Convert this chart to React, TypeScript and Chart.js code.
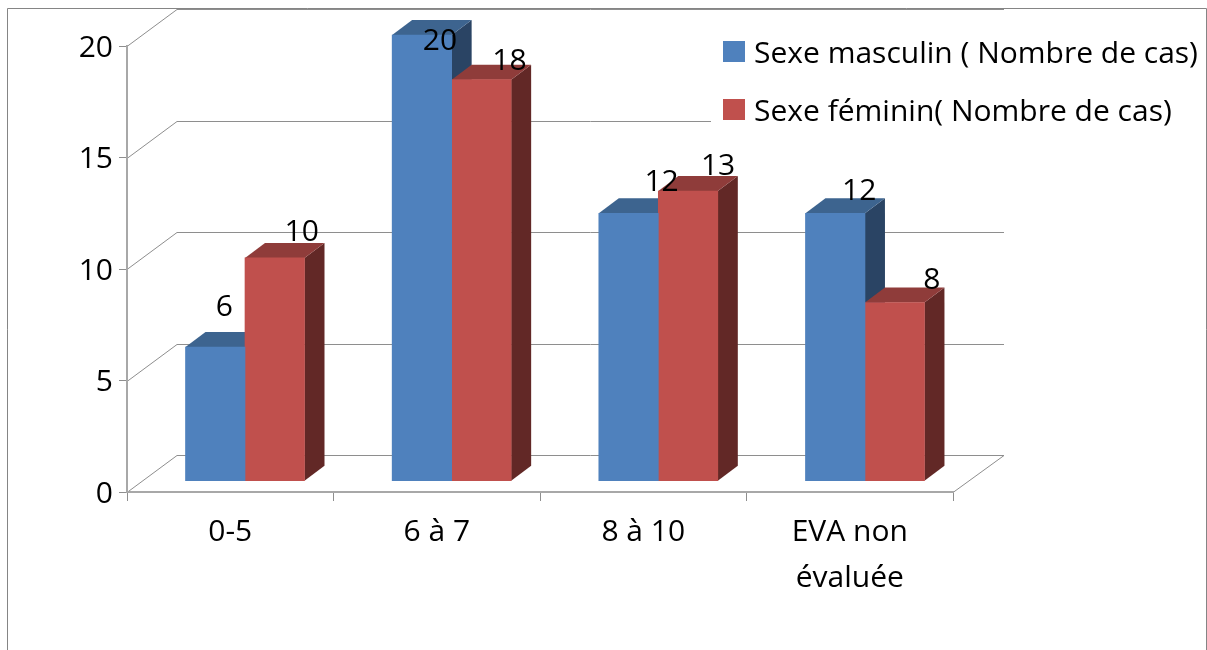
import React, { useEffect, useRef } from "react";
import { Chart, registerables } from "chart.js";

Chart.register(...registerables);

const categories: (string | string[])[] = ["0-5", "6 à 7", "8 à 10", ["EVA non", "évaluée"]];
const maleCases = [6, 20, 12, 12];
const femaleCases = [10, 18, 13, 8];
const maleLabel = "Sexe masculin ( Nombre de cas)";
const femaleLabel = "Sexe féminin( Nombre de cas)";

const FONT = "'Open Sans'";
const FONT_SIZE = 30;
const DEPTH_X = 20;
const DEPTH_Y = 15;
const WALL_X = 50;
const WALL_Y = 37;
const GRID = "#8e8e8e";
const AXIS = "#a8a8a8";

const faceColors = [
  { top: "#3d648f", side: "#2a4464", legend: "#4f81bd" },
  { top: "#8f3c3a", side: "#622826", legend: "#c0504d" },
];
// label nudges relative to the top-centre of each bar, by dataset then category
const labelNudges = [
  [[9, -40], [18, 6], [33, -31], [24, -22]],
  [[27, -25], [28, -18], [30, -25], [37, -22]],
];

const scene = {
  id: "scene3d",
  beforeDraw(chart: any) {
    const { ctx, chartArea: a } = chart;
    const y = chart.scales.y;
    ctx.save();
    ctx.fillStyle = "#ffffff";
    ctx.fillRect(0, 0, chart.width, chart.height);
    ctx.strokeStyle = "#858585";
    ctx.lineWidth = 1;
    ctx.beginPath();
    ctx.moveTo(7.5, 650);
    ctx.lineTo(7.5, 8.5);
    ctx.lineTo(1206.5, 8.5);
    ctx.lineTo(1206.5, 650);
    ctx.stroke();
    ctx.strokeStyle = GRID;
    y.ticks.forEach((t: any) => {
      const py = Math.round(y.getPixelForValue(t.value)) + 0.5;
      ctx.beginPath();
      ctx.moveTo(a.left, py);
      ctx.lineTo(a.left + WALL_X, py - WALL_Y);
      ctx.lineTo(a.right + WALL_X + 1, py - WALL_Y);
      if (t.value === 0) ctx.lineTo(a.right, py);
      ctx.stroke();
    });
    // legend backing hides the gridlines behind it
    ctx.fillStyle = "#ffffff";
    ctx.fillRect(711, 15, 400, 120);
    ctx.restore();
  },
  beforeDatasetsDraw(chart: any) {
    const { ctx } = chart;
    ctx.save();
    chart.data.datasets.forEach((_: any, d: number) => {
      const c = faceColors[d];
      chart.getDatasetMeta(d).data.forEach((bar: any) => {
        const left = bar.x - bar.width / 2;
        const right = bar.x + bar.width / 2;
        const top = bar.y;
        const base = bar.base;
        ctx.fillStyle = c.side;
        ctx.beginPath();
        ctx.moveTo(right, top);
        ctx.lineTo(right + DEPTH_X, top - DEPTH_Y);
        ctx.lineTo(right + DEPTH_X, base - DEPTH_Y);
        ctx.lineTo(right, base);
        ctx.closePath();
        ctx.fill();
        ctx.fillStyle = c.top;
        ctx.beginPath();
        ctx.moveTo(left, top);
        ctx.lineTo(left + DEPTH_X, top - DEPTH_Y);
        ctx.lineTo(right + DEPTH_X, top - DEPTH_Y);
        ctx.lineTo(right, top);
        ctx.closePath();
        ctx.fill();
      });
    });
    ctx.restore();
  },
  afterDatasetsDraw(chart: any) {
    const { ctx } = chart;
    ctx.save();
    ctx.font = `${FONT_SIZE}px ${FONT}`;
    ctx.fillStyle = "#000000";
    ctx.textAlign = "center";
    ctx.textBaseline = "middle";
    chart.data.datasets.forEach((ds: any, d: number) => {
      chart.getDatasetMeta(d).data.forEach((bar: any, i: number) => {
        const [nx, ny] = labelNudges[d][i];
        ctx.fillText(String(ds.data[i].y), bar.x + nx, bar.y + ny);
      });
    });
    ctx.textAlign = "left";
    chart.data.datasets.forEach((ds: any, d: number) => {
      const cy = 52 + d * 58;
      ctx.fillStyle = faceColors[d].legend;
      ctx.fillRect(723, cy - 11, 22, 21);
      ctx.fillStyle = "#000000";
      ctx.fillText(ds.label, 754, cy + 2);
    });
    ctx.restore();
  },
};

export default function App() {
  const ref = useRef<HTMLCanvasElement>(null);
  useEffect(() => {
    const chart = new Chart(ref.current as HTMLCanvasElement, {
      type: "bar",
      data: {
        labels: categories as any,
        datasets: [
          {
            label: maleLabel,
            data: maleCases.map((v, i) => ({ x: i, y: v })) as any,
            backgroundColor: faceColors[0].legend,
            xAxisID: "x2",
            yAxisID: "y2",
            barThickness: 59.5,
            clip: false as any,
          },
          {
            label: femaleLabel,
            data: femaleCases.map((v, i) => ({ x: i, y: v })) as any,
            backgroundColor: faceColors[1].legend,
            xAxisID: "x2",
            yAxisID: "y2",
            barThickness: 59.5,
            clip: false as any,
          },
        ],
      },
      options: {
        responsive: false,
        animation: false,
        devicePixelRatio: 1,
        layout: { padding: { left: 0, top: 46, right: 254, bottom: 0 } },
        plugins: { legend: { display: false }, tooltip: { enabled: false } },
        scales: {
          x: {
            type: "category",
            offset: true,
            border: { color: AXIS, width: 2 },
            grid: { offset: true, drawOnChartArea: false, tickLength: 9, tickColor: GRID, tickWidth: 1 },
            ticks: {
              autoSkip: false,
              maxRotation: 0,
              color: "#000000",
              padding: 9,
              font: { family: FONT, size: FONT_SIZE, lineHeight: 1.52 },
            },
            afterFit: (s: any) => {
              s.height = 158;
            },
          },
          y: {
            type: "linear",
            min: 0,
            max: 20,
            border: { color: AXIS, width: 2 },
            grid: { drawOnChartArea: false, tickLength: 8, tickColor: GRID, tickWidth: 1 },
            ticks: {
              stepSize: 5,
              color: "#000000",
              padding: 6,
              labelOffset: 2,
              font: { family: FONT, size: FONT_SIZE },
            },
            afterFit: (s: any) => {
              s.width = 127;
            },
          },
          x2: { type: "linear", display: false, offset: false, min: -0.571, max: 3.426 },
          y2: { type: "linear", display: false, min: -0.507, max: 19.51 },
        },
      },
      plugins: [scene],
    } as any);
    return () => chart.destroy();
  }, []);
  return (
    <div style={{ position: "absolute", left: 0, top: 0, width: 1207, height: 650 }}>
      <canvas ref={ref} width={1207} height={650} style={{ display: "block" }} />
    </div>
  );
}
